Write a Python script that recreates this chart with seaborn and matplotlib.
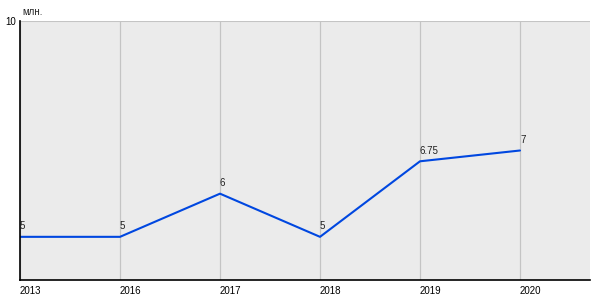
import matplotlib
matplotlib.use("Agg")
import matplotlib.pyplot as plt
import seaborn as sns
import pandas as pd

years = ["2013", "2016", "2017", "2018", "2019", "2020"]
values = [5, 5, 6, 5, 6.75, 7]
value_labels = ["5", "5", "6", "5", "6.75", "7"]
y_ticks = [10]
y_tick_labels = ["10"]
unit = "млн."

sns.set_theme(style="white")
plt.rcParams['font.family'] = ['Liberation Sans', 'DejaVu Sans']

df = pd.DataFrame({"year": years, "value": values})
df["pos"] = range(len(years))

fig = plt.figure(figsize=(6, 3), dpi=100)
ax = fig.add_axes([20/600, 20/300, 570/600, 259/300])
ax.set_facecolor("#ebebeb")

sns.lineplot(data=df, x="pos", y="value", ax=ax, color="#0047e0", linewidth=1.5)

ax.set_xlim(0, 5.7)
ax.set_ylim(4, 10)
ax.set_xticks(df["pos"])
ax.set_xticklabels(years, fontsize=7, ha="left")
ax.set_yticks(y_ticks)
ax.set_yticklabels(y_tick_labels, fontsize=7)
ax.set_xlabel("")
ax.set_ylabel("")

for x in df["pos"]:
    ax.axvline(x, color="#c4c4c4", linewidth=0.9, zorder=0)
ax.axhline(10, color="#c4c4c4", linewidth=1.5, zorder=0)

for x, v, lab in zip(df["pos"], df["value"], value_labels):
    ax.annotate(lab, (x, v), xytext=(0, 4), textcoords="offset points",
                fontsize=7, ha="left", va="bottom", color="#222222")

for s in ["top", "right"]:
    ax.spines[s].set_visible(False)
ax.spines["left"].set_color("black")
ax.spines["bottom"].set_color("black")
ax.spines["left"].set_linewidth(1.2)
ax.spines["bottom"].set_linewidth(1.2)

ax.tick_params(axis="y", length=2, width=1, pad=1, colors="black")
ax.tick_params(axis="x", length=0, pad=4, colors="black")

fig.text(22/600, 1 - 12/300, unit, fontsize=7, ha="left", va="center")

fig.savefig("out.png", dpi=100)
